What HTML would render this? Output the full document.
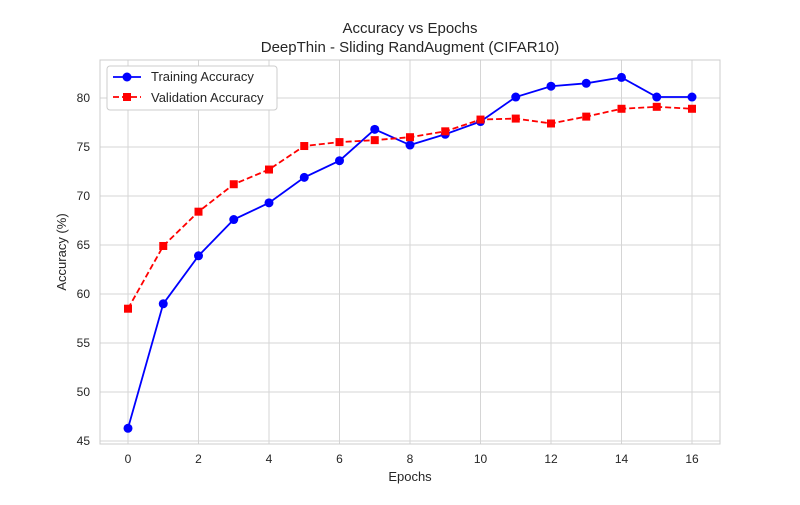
<!DOCTYPE html>
<html><head><meta charset="utf-8"><style>
body{margin:0;background:#fff;font-family:"Liberation Sans","DejaVu Sans",sans-serif}
svg text{font-family:"Liberation Sans","DejaVu Sans",sans-serif;fill:#262626}
</style></head><body>
<svg id="chart" width="800" height="500" xmlns="http://www.w3.org/2000/svg">
<rect width="800" height="500" fill="#fff"/>
<text x="410" y="33" text-anchor="middle" font-size="15">Accuracy vs Epochs</text>
<text x="410" y="52" text-anchor="middle" font-size="15">DeepThin - Sliding RandAugment (CIFAR10)</text>
<g id="grid"></g><g id="axes"></g><g id="series"></g>
<text x="410" y="481" text-anchor="middle" font-size="13">Epochs</text>
<text transform="translate(66,252) rotate(-90)" text-anchor="middle" font-size="13">Accuracy (%)</text>
<g>
<rect x="107" y="66" width="170" height="44" rx="3" fill="#fff" stroke="#ccc"/>
<g>
<line x1="113" y1="77" x2="141" y2="77" stroke="blue" stroke-width="1.8"/><circle cx="127" cy="77" r="4.5" fill="blue"/>
<text x="151" y="81" font-size="13">Training Accuracy</text></g>
<g>
<line x1="113" y1="97" x2="141" y2="97" stroke="red" stroke-width="1.8" stroke-dasharray="6,3"/><rect x="123" y="93" width="8" height="8" fill="red"/>
<text x="151" y="102" font-size="13">Validation Accuracy</text></g>
</g>
</svg>
<script>
const epochs=[0,1,2,3,4,5,6,7,8,9,10,11,12,13,14,15,16];
const trainAcc=[46.3,59.0,63.9,67.6,69.3,71.9,73.6,76.8,75.2,76.3,77.6,80.1,81.2,81.5,82.1,80.1,80.1];
const valAcc=[58.5,64.9,68.4,71.2,72.7,75.1,75.5,75.7,76.0,76.6,77.8,77.9,77.4,78.1,78.9,79.1,78.9];
const xTicks=[0,2,4,6,8,10,12,14,16];
const yTicks=[45,50,55,60,65,70,75,80];
const NS="http://www.w3.org/2000/svg";
const L=100,R=720,T=60,B=444;
const x=v=>128+v*(692-128)/16;
const y=v=>441-(v-45)*9.8;
function mk(tag,attrs,parent){const e=document.createElementNS(NS,tag);for(const k in attrs)e.setAttribute(k,attrs[k]);parent.appendChild(e);return e;}
const grid=document.getElementById('grid'),axes=document.getElementById('axes'),series=document.getElementById('series');
xTicks.forEach(t=>{
 const g=mk('line',{x1:x(t),x2:x(t),y1:T,y2:B,stroke:'#d5d5d5','stroke-width':1},grid);
 
 
 const tx=mk('text',{x:x(t),y:B+19,'text-anchor':'middle','font-size':12},axes);tx.textContent=t;
 
 
});
yTicks.forEach(t=>{
 const g=mk('line',{x1:L,x2:R,y1:y(t),y2:y(t),stroke:'#d5d5d5','stroke-width':1},grid);
 
 
 const tx=mk('text',{x:L-10,y:y(t)+4,'text-anchor':'end','font-size':12},axes);tx.textContent=t;
 
 
});
const frame=mk('rect',{x:L,y:T,width:R-L,height:B-T,fill:'none',stroke:'#ccc','stroke-width':1},axes);


const tl=mk('polyline',{points:epochs.map((e,i)=>x(e)+','+y(trainAcc[i])).join(' '),fill:'none',stroke:'blue','stroke-width':1.8},series);


const vl=mk('polyline',{points:epochs.map((e,i)=>x(e)+','+y(valAcc[i])).join(' '),fill:'none',stroke:'red','stroke-width':1.8,'stroke-dasharray':'6,3'},series);


epochs.forEach((e,i)=>{
 const c=mk('circle',{cx:x(e),cy:y(trainAcc[i]),r:4.5,fill:'blue'},series);
 
 
 const s=mk('rect',{x:x(e)-4,y:y(valAcc[i])-4,width:8,height:8,fill:'red'},series);
 
 
});
</script>
</body></html>
